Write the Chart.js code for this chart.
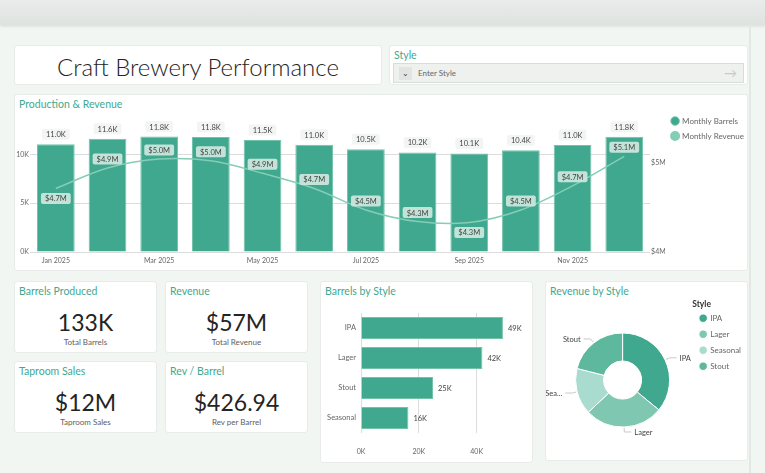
<!DOCTYPE html>
<html>
<head>
<meta charset="utf-8">
<title>Craft Brewery Performance</title>
<script src="https://cdn.jsdelivr.net/npm/chart.js@4.4.1/dist/chart.umd.min.js"></script>
<style>
    body { margin: 0; width: 765px; height: 473px; background: #f2f6f3; font-family: Lato, "Open Sans", sans-serif; position: relative; overflow: hidden; }
    .hdr { position: absolute; left: 0; top: 0; width: 765px; height: 25px; background: linear-gradient(#e9ecea, #dfe3e0); box-shadow: 0 1px 3px rgba(0,0,0,.12); }
    .vline { position: absolute; left: 749px; top: 25px; width: 2px; height: 448px; background: #e4e8e5; }
    .card { position: absolute; background: #fff; border: 1px solid #e7ece8; border-radius: 3px; box-sizing: border-box; }
    .ttl { position: absolute; left: 4px; top: 3px; font-size: 10.5px; color: #3fa88f; white-space: nowrap; }
    .big { position: absolute; left: 0; right: 0; text-align: center; font-size: 24px; font-weight: 300; color: #252423; }
    .kval { position: absolute; left: 0; right: 0; top: 26px; text-align: center; font-size: 23px; color: #252423; }
    .ksub { position: absolute; left: 0; right: 0; top: 55px; text-align: center; font-size: 8px; color: #605e5c; }
    .slicer { position: absolute; left: 3px; top: 17px; width: 351px; height: 20px; background: #eef1ee; border: 1px solid #d9ddda; box-sizing: border-box; }
    .chev { position: absolute; left: 5px; top: 3px; width: 13px; height: 13px; background: #e1e4e1; font-size: 8px; color: #444; text-align: center; line-height: 13px; }
    .ph { position: absolute; left: 24px; top: 4px; font-size: 8px; color: #666; }
    .arr { position: absolute; right: 6px; top: 1px; font-size: 13px; color: #c8cbc8; }
    canvas { position: absolute; }
</style>
</head>
<body>
<div class="hdr"></div>
<div class="vline"></div>

<div class="card" style="left:14px;top:45px;width:368px;height:40px">
    <div class="big" style="top:6px">Craft Brewery Performance</div>
</div>
<div class="card" style="left:389px;top:45px;width:359px;height:40px">
    <div class="ttl">Style</div>
    <div class="slicer">
        <div class="chev">&#8964;</div>
        <div class="ph">Enter Style</div>
        <div class="arr">&#8594;</div>
    </div>
</div>

<div class="card" style="left:14px;top:94px;width:734px;height:177px">
    <div class="ttl">Production &amp; Revenue</div>
</div>
<canvas id="mainChart" style="left:16px;top:110px" width="738" height="160"></canvas>

<div class="card" style="left:14px;top:281px;width:143px;height:72px">
    <div class="ttl">Barrels Produced</div>
    <div class="kval" id="kpi0"></div><div class="ksub">Total Barrels</div>
</div>
<div class="card" style="left:165px;top:281px;width:143px;height:72px">
    <div class="ttl">Revenue</div>
    <div class="kval" id="kpi1"></div><div class="ksub">Total Revenue</div>
</div>
<div class="card" style="left:14px;top:361px;width:143px;height:72px">
    <div class="ttl">Taproom Sales</div>
    <div class="kval" id="kpi2"></div><div class="ksub">Taproom Sales</div>
</div>
<div class="card" style="left:165px;top:361px;width:143px;height:72px">
    <div class="ttl">Rev / Barrel</div>
    <div class="kval" id="kpi3"></div><div class="ksub">Rev per Barrel</div>
</div>

<div class="card" style="left:320px;top:281px;width:213px;height:182px">
    <div class="ttl">Barrels by Style</div>
</div>
<canvas id="styleBar" style="left:322px;top:300px" width="208" height="160"></canvas>

<div class="card" style="left:545px;top:281px;width:203px;height:180px">
    <div class="ttl">Revenue by Style</div>
</div>
<canvas id="styleDonut" style="left:546px;top:300px" width="205" height="160"></canvas>

<script>
// monthly data
const months = ['Jan 2025', 'Feb 2025', 'Mar 2025', 'Apr 2025', 'May 2025', 'Jun 2025',
    'Jul 2025', 'Aug 2025', 'Sep 2025', 'Oct 2025', 'Nov 2025', 'Dec 2025'];
const monthlyBarrels = [11020, 11580, 11810, 11780, 11470, 10980, 10510, 10190, 10080, 10410, 10960, 11790];
const monthlyRevenue = [4710000, 4940000, 5040000, 5020000, 4880000, 4710000, 4470000, 4340000, 4330000, 4470000, 4740000, 5070000];
const barrelTicks = [0, 5000, 10000];
const revenueTicks = [4000000, 5000000];

// by style
const barStyles = ['IPA', 'Lager', 'Stout', 'Seasonal'];
const barrelsByStyle = [49100, 42000, 24900, 16400];
const styleTicks = [0, 20000, 40000];
const donutStyles = ['IPA', 'Lager', 'Seasonal', 'Stout'];
const revenueByStyle = [20500000, 15400000, 9100000, 12000000];

// cards
const kpiValues = ['133K', '$57M', '$12M', '$426.94'];

kpiValues.forEach((v, i) => { document.getElementById('kpi' + i).textContent = v; });

const FONT = 'Lato, "Open Sans", sans-serif';
const dark = '#3fa88f';
const light = '#84cdb6';
const revBelow = [0, 8]; // revenue labels that sit under the line

function kFmt(v) { return Math.round(v / 1000) + 'K'; }
function fixTicks(list) {
    return s => { s.ticks = list.map(v => ({ value: v })); };
}

function labelBox(ctx, text, x, y, bg, color) {
    ctx.font = '7.5px ' + FONT;
    var w = ctx.measureText(text).width + 8;
    var h = 11;
    ctx.fillStyle = bg;
    ctx.beginPath();
    ctx.roundRect(x - w / 2, y - h / 2, w, h, 2);
    ctx.fill();
    ctx.fillStyle = color;
    ctx.textAlign = 'center';
    ctx.textBaseline = 'middle';
    ctx.fillText(text, x, y + 0.5);
}

const comboLabels = {
    id: 'comboLabels',
    afterDatasetsDraw(chart) {
        var ctx = chart.ctx;
        ctx.save();
        chart.getDatasetMeta(0).data.forEach((bar, i) => {
            labelBox(ctx, (monthlyBarrels[i] / 1000).toFixed(1) + 'K', bar.x, bar.y - 10, '#f3f5f4', '#444');
        });
        chart.getDatasetMeta(1).data.forEach((pt, i) => {
            var dy = revBelow.includes(i) ? 10 : -9;
            labelBox(ctx, '$' + (monthlyRevenue[i] / 1e6).toFixed(1) + 'M', pt.x, pt.y + dy, 'rgba(206,232,223,0.92)', '#444');
        });
        ctx.restore();
    }
};

new Chart(document.getElementById('mainChart'), {
    data: {
        labels: months,
        datasets: [{
            type: 'bar',
            label: 'Monthly Barrels',
            data: monthlyBarrels,
            backgroundColor: dark,
            borderColor: '#72c3a9',
            borderWidth: 1,
            barPercentage: 0.73,
            categoryPercentage: 1,
            yAxisID: 'y',
            order: 2
        }, {
            type: 'line',
            label: 'Monthly Revenue',
            data: monthlyRevenue,
            borderColor: light,
            backgroundColor: light,
            borderWidth: 1.5,
            pointRadius: 0,
            tension: 0.35,
            yAxisID: 'y1',
            order: 1
        }]
    },
    options: {
        responsive: false,
        animation: false,
        plugins: {
            tooltip: { enabled: false },
            legend: {
                position: 'right',
                align: 'start',
                labels: {
                    usePointStyle: true,
                    pointStyle: 'circle',
                    boxWidth: 6,
                    boxHeight: 6,
                    padding: 7,
                    color: '#666',
                    font: { family: FONT, size: 8 },
                    sort: (a, b) => a.datasetIndex - b.datasetIndex
                }
            }
        },
        scales: {
            x: {
                afterFit: s => { s.height = 18; },
                grid: { display: false, drawTicks: false },
                border: { display: false },
                ticks: {
                    autoSkip: false,
                    maxRotation: 0,
                    color: '#666',
                    font: { family: FONT, size: 7 },
                    padding: 5,
                    callback: function (v, i) { return i % 2 === 0 ? this.getLabelForValue(v) : ''; }
                }
            },
            y: {
                position: 'left',
                min: 0,
                max: 14000,
                afterBuildTicks: fixTicks(barrelTicks),
                afterFit: s => { s.width = 14; },
                border: { display: false },
                grid: { color: '#dcdcdc', borderDash: [1, 3], drawTicks: false },
                ticks: {
                    color: '#666',
                    padding: 1,
                    font: { family: FONT, size: 7 },
                    callback: v => kFmt(v)
                }
            },
            y1: {
                position: 'right',
                min: 4000000,
                max: 5530000,
                afterBuildTicks: fixTicks(revenueTicks),
                afterFit: s => { s.width = 15; },
                border: { display: false },
                grid: { display: false, drawTicks: false },
                ticks: {
                    color: '#666',
                    padding: 1,
                    font: { family: FONT, size: 7 },
                    callback: v => '$' + Math.round(v / 1e6) + 'M'
                }
            }
        }
    },
    plugins: [comboLabels]
});

const endLabels = {
    id: 'endLabels',
    afterDatasetsDraw(chart) {
        var ctx = chart.ctx;
        ctx.save();
        ctx.font = '7.5px ' + FONT;
        ctx.fillStyle = '#444';
        ctx.textAlign = 'left';
        ctx.textBaseline = 'middle';
        chart.getDatasetMeta(0).data.forEach((bar, i) => {
            ctx.fillText(kFmt(barrelsByStyle[i]), bar.x + 5, bar.y + 1);
        });
        ctx.restore();
    }
};

new Chart(document.getElementById('styleBar'), {
    type: 'bar',
    data: {
        labels: barStyles,
        datasets: [{
            data: barrelsByStyle,
            backgroundColor: dark,
            borderColor: '#72c3a9',
            borderWidth: 1,
            barPercentage: 0.74,
            categoryPercentage: 1
        }]
    },
    options: {
        indexAxis: 'y',
        responsive: false,
        animation: false,
        layout: { padding: { top: 13, right: 10, bottom: 0 } },
        plugins: { legend: { display: false }, tooltip: { enabled: false } },
        scales: {
            x: {
                min: 0,
                max: 55000,
                afterBuildTicks: fixTicks(styleTicks),
                afterFit: s => { s.height = 27; },
                border: { display: false },
                grid: { color: '#dcdcdc', borderDash: [1, 3], drawTicks: false },
                ticks: {
                    color: '#666',
                    padding: 15,
                    font: { family: FONT, size: 7 },
                    callback: v => kFmt(v)
                }
            },
            y: {
                afterFit: s => { s.width = 39; },
                border: { display: false },
                grid: { display: false, drawTicks: false },
                ticks: { color: '#666', padding: 5, font: { family: FONT, size: 7.5 } }
            }
        }
    },
    plugins: [endLabels]
});

const leaderLabels = {
    id: 'leaderLabels',
    afterDatasetsDraw(chart) {
        var ctx = chart.ctx;
        ctx.save();
        ctx.font = '7.5px ' + FONT;
        ctx.strokeStyle = '#c8c8c8';
        ctx.fillStyle = '#444';
        ctx.lineWidth = 1;
        ctx.textBaseline = 'middle';
        chart.getDatasetMeta(0).data.forEach((arc, i) => {
            var a = (arc.startAngle + arc.endAngle) / 2;
            var r = arc.outerRadius;
            var cx = arc.x, cy = arc.y;
            var x0 = cx + Math.cos(a) * (r + 1), y0 = cy + Math.sin(a) * (r + 1);
            var x1 = cx + Math.cos(a) * (r + 5), y1 = cy + Math.sin(a) * (r + 5);
            var side = Math.cos(a) >= 0 ? 1 : -1;
            var x2 = x1 + side * 7;
            ctx.beginPath();
            ctx.moveTo(x0, y0);
            ctx.lineTo(x1, y1);
            ctx.lineTo(x2, y1);
            ctx.stroke();
            var txt = donutStyles[i];
            var tx = x2 + side * 3;
            if (side < 0) {
                var room = tx + 1;
                if (ctx.measureText(txt).width > room) {
                    while (txt.length > 1 && ctx.measureText(txt + '...').width > room) txt = txt.slice(0, -1);
                    txt = txt + '...';
                }
            }
            ctx.textAlign = side > 0 ? 'left' : 'right';
            ctx.fillText(txt, tx, y1 + 1);
        });
        ctx.restore();
    }
};

new Chart(document.getElementById('styleDonut'), {
    type: 'doughnut',
    data: {
        labels: donutStyles,
        datasets: [{
            data: revenueByStyle,
            backgroundColor: [dark, '#7fc7b0', '#a9dccf', '#5db89d'],
            borderColor: '#fff',
            borderWidth: 1,
            radius: 47,
            cutout: 28
        }]
    },
    options: {
        responsive: false,
        animation: false,
        layout: { padding: { left: 7, top: 0, right: 0 } },
        plugins: {
            tooltip: { enabled: false },
            legend: {
                position: 'right',
                align: 'start',
                title: { display: true, position: 'start', text: 'Style', color: '#333', font: { family: FONT, size: 8.5, weight: 'bold' }, padding: { top: 0, bottom: -4 } },
                labels: {
                    usePointStyle: true,
                    pointStyle: 'circle',
                    boxWidth: 6,
                    boxHeight: 6,
                    padding: 8,
                    color: '#666',
                    font: { family: FONT, size: 8 }
                }
            }
        }
    },
    plugins: [leaderLabels]
});
</script>
</body>
</html>
